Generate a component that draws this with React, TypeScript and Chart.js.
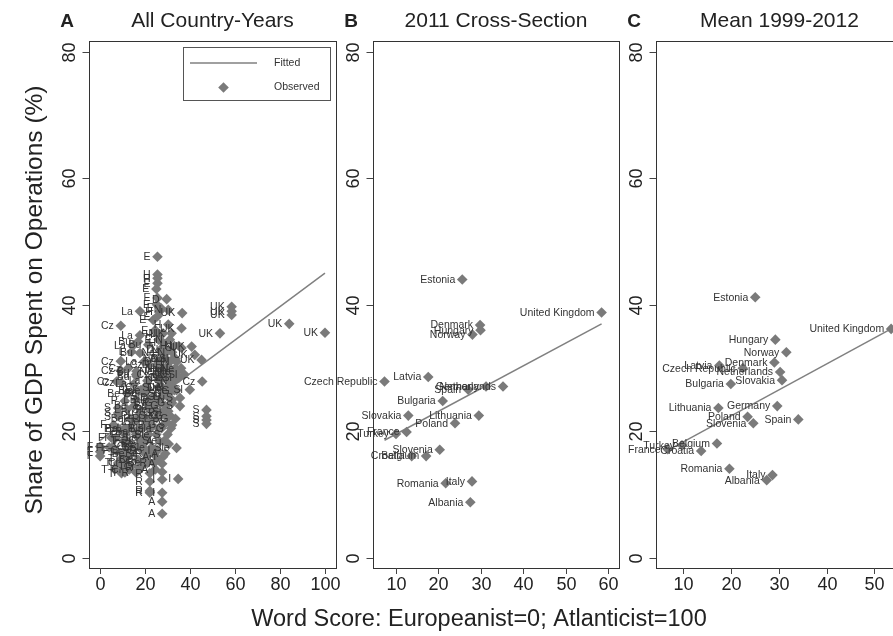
import React, { useEffect, useRef } from 'react';
import { Chart, registerables } from 'chart.js';

Chart.register(...registerables);

// ---------- data ----------

// Share of GDP (y) tick values, common to all three panels
const yTicks = [0, 20, 40, 60, 80];

// Panel A: all country-years, one inner list per country
const codesA = ['E', 'H', 'UK', 'La', 'Cz', 'D', 'N', 'Ne', 'Sl', 'Bu', 'L', 'Be', 'Sle', 'P', 'S', 'G', 'T', 'F', 'Cr', 'R', 'I', 'A'];
const scoresA: number[][] = [
  [25.5, 25.5, 25.5, 25.3, 23.6, 25.5, 24.5, 26.0, 27.0, 25.0],
  [25.5, 25.5, 26.5, 26.6, 28.0, 30.3, 29.5, 31.0, 27.5, 33.0],
  [36.5, 36.2, 40.7, 42.1, 45.1, 53.3, 58.5, 58.5, 58.5, 84.1, 100, 31.8],
  [17.7, 17.7, 14.5, 19.5, 16.0, 21.0, 18.0, 15.0],
  [9.2, 9.2, 9.2, 7.3, 9.5, 45.4, 12.5, 22.0, 25.0, 30.0, 20.0],
  [29.6, 24.3, 27.0, 29.0, 31.0, 28.5, 33.0, 27.5, 30.0, 26.0, 26.5, 29.5, 25.0],
  [30.3, 31.0, 29.0, 32.0, 34.0, 32.0, 30.5, 35.0, 33.0, 28.0, 31.5, 29.0, 33.5],
  [28.0, 31.5, 34.5, 30.0, 36.0, 26.5, 33.0, 29.0, 27.5, 32.5],
  [36.2, 30.3, 33.5, 35.0, 31.0, 28.5, 37.5, 26.0, 39.9],
  [16.9, 21.4, 17.7, 16.2, 16.2, 19.5, 22.0, 24.0, 18.0],
  [14.0, 25.1, 27.3, 12.0, 15.0, 18.0, 20.5, 16.0, 13.0, 19.0, 22.5, 17.0],
  [16.9, 12.0, 15.5, 18.0, 20.0, 17.0, 19.0, 14.0, 21.0, 13.5, 15.0, 11.0],
  [34.0, 21.0, 24.0, 22.5, 25.0, 19.5, 27.0, 23.0, 28.5, 20.5, 26.0, 23.5],
  [11.0, 8.0, 11.0, 20.5, 23.0, 25.0, 27.5, 22.0, 29.5, 18.5, 21.5, 16.5],
  [47.3, 47.3, 47.3, 47.3, 8.0, 8.0, 8.0, 35.5, 35.5, 32.0, 30.0],
  [32.0, 29.0, 26.5, 31.0, 33.5, 28.0, 30.5, 34.0, 27.5, 29.0, 31.5, 26.0],
  [9.5, 9.5, 9.5, 9.5, 5.5, 7.0, 12.0, 10.5, 14.0, 8.0, 6.5, 11.0],
  [0, 0, 0, 5.0, 4.0, 7.0, 10.0, 12.0, 6.0],
  [15.4, 17.7, 19.9, 12.5, 14.0, 16.5, 11.5, 13.0, 18.5, 16.0, 20.5],
  [22.1, 22.1, 22.1, 22.1, 17.7, 20.0, 16.0, 22.0, 24.0],
  [27.6, 27.6, 34.7, 27.6, 28.0, 25.5, 30.5, 26.0],
  [27.6, 27.6, 27.6, 26.6, 24.5, 29.0, 25.0],
];
const sharesA: number[][] = [
  [47.6, 43.4, 41.1, 40.0, 37.6, 38.2, 36.0, 34.5, 39.5, 42.5],
  [44.8, 44.2, 39.0, 35.3, 34.0, 36.9, 32.5, 31.0, 30.0, 33.5],
  [38.7, 36.3, 33.4, 32.1, 31.3, 35.5, 39.7, 39.0, 38.4, 37.0, 35.6, 35.5],
  [39.0, 35.2, 33.5, 31.0, 29.0, 28.0, 26.5, 27.5],
  [36.7, 31.1, 29.6, 27.9, 27.7, 27.9, 30.0, 30.5, 29.0, 28.5, 27.0],
  [40.9, 25.3, 33.0, 31.5, 30.0, 28.5, 29.0, 27.0, 25.5, 31.0, 28.0, 29.0, 30.5],
  [39.2, 34.5, 33.0, 32.5, 31.0, 25.0, 29.5, 33.5, 28.0, 35.5, 27.0, 31.5, 30.0],
  [31.5, 28.5, 29.5, 27.0, 30.0, 29.5, 26.5, 30.0, 32.5, 31.5],
  [33.2, 23.2, 31.5, 28.5, 27.5, 26.0, 29.0, 27.0, 26.6],
  [34.2, 33.7, 32.4, 29.5, 28.7, 26.0, 25.0, 24.0, 23.0],
  [32.6, 22.1, 20.5, 23.5, 21.5, 22.5, 24.5, 25.0, 20.5, 20.5, 22.0, 19.0],
  [26.4, 26.0, 20.0, 18.0, 16.5, 15.5, 17.5, 16.5, 15.0, 22.0, 24.0, 20.5],
  [17.4, 26.5, 23.5, 20.5, 19.5, 19.0, 22.5, 17.5, 18.5, 21.5, 20.5, 25.5],
  [24.8, 20.5, 19.5, 22.0, 21.0, 24.5, 23.0, 23.5, 21.5, 20.5, 19.5, 22.0],
  [23.4, 22.4, 21.8, 21.2, 23.7, 22.9, 22.4, 25.3, 24.0, 21.0, 19.5],
  [24.5, 24.0, 24.5, 22.5, 22.0, 21.0, 26.0, 26.5, 25.5, 22.5, 20.5, 23.0],
  [16.6, 15.7, 14.7, 13.4, 17.5, 19.0, 16.0, 18.5, 14.5, 15.0, 14.0, 13.5],
  [17.6, 16.8, 16.1, 19.0, 17.5, 17.0, 20.0, 18.5, 21.0],
  [17.6, 17.4, 17.0, 17.0, 18.0, 15.5, 15.0, 14.0, 14.5, 19.5, 18.5],
  [13.4, 12.1, 10.6, 10.3, 14.3, 15.5, 13.5, 16.5, 15.0],
  [13.6, 12.4, 12.5, 10.3, 16.0, 17.0, 18.0, 15.5],
  [14.9, 8.9, 7.0, 18.4, 14.0, 16.5, 16.0],
];
const xTicksA = [0, 20, 40, 60, 80, 100];
const fitXA = [0, 100];
const fitYA = [18.6, 45.0];

// Panel B: 2011 cross-section
const countriesB = ['Estonia', 'United Kingdom', 'Denmark', 'Hungary', 'Norway', 'Czech Republic', 'Latvia', 'Germany', 'Netherlands', 'Spain', 'Bulgaria', 'Slovakia', 'Lithuania', 'Poland', 'Turkey', 'France', 'Slovenia', 'Croatia', 'Belgium', 'Romania', 'Italy', 'Albania'];
const scoresB = [25.6, 58.4, 29.8, 29.9, 28.0, 7.3, 17.6, 31.2, 35.2, 27.0, 21.0, 12.9, 29.5, 23.9, 10.0, 12.5, 20.3, 13.7, 17.1, 21.7, 27.9, 27.5];
const sharesB = [44.0, 38.8, 36.8, 36.0, 35.3, 27.9, 28.6, 27.1, 27.1, 26.6, 24.8, 22.5, 22.5, 21.3, 19.6, 19.9, 17.1, 16.1, 16.1, 11.8, 12.1, 8.8];
const xTicksB = [10, 20, 30, 40, 50, 60];
const fitXB = [7.3, 58.4];
const fitYB = [18.6, 37.0];

// Panel C: country means, 1999-2012
const countriesC = ['Estonia', 'United Kingdom', 'Hungary', 'Norway', 'Denmark', 'Netherlands', 'Slovakia', 'Latvia', 'Czech Republic', 'Bulgaria', 'Lithuania', 'Germany', 'Spain', 'Poland', 'Slovenia', 'Belgium', 'Turkey', 'France', 'Croatia', 'Romania', 'Italy', 'Albania'];
const scoresC = [25.1, 53.5, 29.3, 31.6, 29.1, 30.3, 30.7, 17.6, 22.5, 20.0, 17.4, 29.7, 34.1, 23.5, 24.7, 17.1, 9.8, 6.8, 13.8, 19.7, 28.7, 27.5];
const sharesC = [41.2, 36.2, 34.5, 32.5, 30.9, 29.4, 28.1, 30.4, 30.0, 27.5, 23.7, 24.0, 21.9, 22.3, 21.3, 18.1, 17.8, 17.2, 16.9, 14.1, 13.1, 12.3];
const xTicksC = [10, 20, 30, 40, 50];
const fitXC = [6.8, 53.5];
const fitYC = [17.0, 36.2];

// ---------- styling ----------

const FONT = '"Liberation Sans", Arial, Helvetica, sans-serif';
const MARKER = '#7a7a7a';
const FIT_LINE = '#808080';
const INK = '#222222';
const LABEL_INK = '#333333';
const PAGE_H = 636;

type PanelOpts = {
  letter: string;
  title: string;
  labels: string[];
  legend: boolean;
  axisTitles: boolean;
};

function diamond(ctx: CanvasRenderingContext2D, x: number, y: number, r: number) {
  ctx.beginPath();
  ctx.moveTo(x, y - r);
  ctx.lineTo(x + r, y);
  ctx.lineTo(x, y + r);
  ctx.lineTo(x - r, y);
  ctx.closePath();
  ctx.fill();
}

// Base-graphics style frame: box, outward ticks, rotated y labels, titles, point labels
const panelPlugin = {
  id: 'panel',
  afterDatasetsDraw(chart: any, _args: any, opts: PanelOpts) {
    const ctx: CanvasRenderingContext2D = chart.ctx;
    const { left, right, top, bottom } = chart.chartArea;
    const xs = chart.scales.x;
    const ys = chart.scales.y;

    // point labels, placed to the left of each marker
    const meta = chart.getDatasetMeta(0);
    ctx.save();
    ctx.fillStyle = LABEL_INK;
    ctx.font = `10.5px ${FONT}`;
    ctx.textAlign = 'right';
    ctx.textBaseline = 'middle';
    meta.data.forEach((pt: any, i: number) => {
      ctx.fillText(opts.labels[i], pt.x - 7, pt.y + 0.5);
    });
    ctx.restore();

    ctx.save();
    // plot box
    ctx.strokeStyle = '#333333';
    ctx.lineWidth = 1;
    ctx.strokeRect(Math.round(left) + 0.5, Math.round(top) + 0.5, Math.round(right - left), Math.round(bottom - top));

    // y axis ticks & labels
    ctx.strokeStyle = '#444444';
    ctx.fillStyle = INK;
    ctx.font = `18px ${FONT}`;
    ctx.textAlign = 'center';
    ctx.textBaseline = 'middle';
    ys.ticks.forEach((t: any) => {
      const py = Math.round(ys.getPixelForValue(t.value)) + 0.5;
      ctx.beginPath();
      ctx.moveTo(left - 6.5, py);
      ctx.lineTo(left, py);
      ctx.stroke();
      ctx.save();
      ctx.translate(left - 20, py);
      ctx.rotate(-Math.PI / 2);
      ctx.fillText(String(t.value), 0, 1);
      ctx.restore();
    });

    // x axis ticks & labels
    xs.ticks.forEach((t: any) => {
      const px = Math.round(xs.getPixelForValue(t.value)) + 0.5;
      ctx.beginPath();
      ctx.moveTo(px, bottom);
      ctx.lineTo(px, bottom + 6);
      ctx.stroke();
      ctx.fillText(String(t.value), px, bottom + 17);
    });

    // panel letter and title
    ctx.fillStyle = INK;
    ctx.textBaseline = 'alphabetic';
    ctx.font = `bold 19px ${FONT}`;
    ctx.textAlign = 'center';
    ctx.fillText(opts.letter, left - 22, 27);
    ctx.font = `21px ${FONT}`;
    ctx.fillText(opts.title, (left + right) / 2, 26.5);

    if (opts.legend) {
      const lx = left + 94;
      const ly = top + 6;
      ctx.strokeStyle = '#555555';
      ctx.strokeRect(lx + 0.5, ly + 0.5, 147, 53);
      ctx.strokeStyle = FIT_LINE;
      ctx.lineWidth = 1.5;
      ctx.beginPath();
      ctx.moveTo(lx + 7, ly + 16);
      ctx.lineTo(lx + 74, ly + 16);
      ctx.stroke();
      ctx.fillStyle = MARKER;
      diamond(ctx, lx + 40.5, ly + 40.5, 5.3);
      ctx.fillStyle = LABEL_INK;
      ctx.font = `10.5px ${FONT}`;
      ctx.textAlign = 'left';
      ctx.textBaseline = 'middle';
      ctx.fillText(chart.data.datasets[1].label, lx + 91, ly + 16.5);
      ctx.fillText(chart.data.datasets[0].label, lx + 91, ly + 40.5);
    }

    if (opts.axisTitles) {
      ctx.fillStyle = INK;
      ctx.font = `23.5px ${FONT}`;
      ctx.textAlign = 'center';
      ctx.textBaseline = 'middle';
      ctx.fillText('Word Score: Europeanist=0; Atlanticist=100', 479, 620);
      ctx.save();
      ctx.translate(35, 300);
      ctx.rotate(-Math.PI / 2);
      ctx.font = `24.5px ${FONT}`;
      ctx.fillText('Share of GDP Spent on Operations (%)', 0, 0);
      ctx.restore();
    }
    ctx.restore();
  },
};

type PanelProps = {
  width: number;
  box: { left: number; right: number; top: number; bottom: number };
  xMin: number;
  xMax: number;
  xTicks: number[];
  scores: number[];
  shares: number[];
  labels: string[];
  fitX: number[];
  fitY: number[];
  letter: string;
  title: string;
  legend?: boolean;
  axisTitles?: boolean;
};

function Panel(p: PanelProps) {
  const ref = useRef<HTMLCanvasElement | null>(null);

  useEffect(() => {
    if (!ref.current) return;
    const chart = new Chart(ref.current, {
      type: 'scatter',
      data: {
        datasets: [
          {
            label: 'Observed',
            data: p.scores.map((x, i) => ({ x, y: p.shares[i] })),
            pointStyle: 'rectRot',
            pointRadius: 5.3,
            pointBackgroundColor: MARKER,
            pointBorderColor: MARKER,
            pointBorderWidth: 0,
            borderWidth: 0,
          },
          {
            type: 'line',
            label: 'Fitted',
            data: p.fitX.map((x, i) => ({ x, y: p.fitY[i] })),
            borderColor: FIT_LINE,
            borderWidth: 1.5,
            pointRadius: 0,
            fill: false,
            tension: 0,
          },
        ],
      } as any,
      options: {
        responsive: false,
        maintainAspectRatio: false,
        animation: false,
        devicePixelRatio: 1,
        events: [],
        layout: {
          padding: {
            left: p.box.left,
            top: p.box.top,
            right: p.width - p.box.right,
            bottom: PAGE_H - p.box.bottom,
          },
        },
        scales: {
          x: {
            type: 'linear',
            display: false,
            min: p.xMin,
            max: p.xMax,
            afterBuildTicks: (s: any) => {
              s.ticks = p.xTicks.map((v) => ({ value: v }));
            },
          },
          y: {
            type: 'linear',
            display: false,
            min: -1.58,
            max: 81.69,
            afterBuildTicks: (s: any) => {
              s.ticks = yTicks.map((v) => ({ value: v }));
            },
          },
        },
        plugins: {
          legend: { display: false },
          tooltip: { enabled: false },
          panel: {
            letter: p.letter,
            title: p.title,
            labels: p.labels,
            legend: !!p.legend,
            axisTitles: !!p.axisTitles,
          },
        } as any,
      },
      plugins: [panelPlugin],
    });
    return () => chart.destroy();
  }, []);

  return (
    <canvas
      ref={ref}
      width={p.width}
      height={PAGE_H}
      style={{ position: 'absolute', left: 0, top: 0, width: p.width, height: PAGE_H }}
    />
  );
}

export default function App() {
  const flatScoresA = scoresA.flat();
  const flatSharesA = sharesA.flat();
  const flatCodesA = codesA.flatMap((c, i) => scoresA[i].map(() => c));

  return (
    <div
      style={{
        position: 'fixed',
        left: 0,
        top: 0,
        width: 893,
        height: PAGE_H,
        overflow: 'hidden',
        background: '#ffffff',
      }}
    >
      <Panel
        width={893}
        box={{ left: 89, right: 336, top: 41, bottom: 568 }}
        xMin={-4.95}
        xMax={104.9}
        xTicks={xTicksA}
        scores={flatScoresA}
        shares={flatSharesA}
        labels={flatCodesA}
        fitX={fitXA}
        fitY={fitYA}
        letter="A"
        title="All Country-Years"
        legend
        axisTitles
      />
      <Panel
        width={893}
        box={{ left: 373, right: 619, top: 41, bottom: 568 }}
        xMin={4.59}
        xMax={62.5}
        xTicks={xTicksB}
        scores={scoresB}
        shares={sharesB}
        labels={countriesB}
        fitX={fitXB}
        fitY={fitYB}
        letter="B"
        title="2011 Cross-Section"
      />
      <Panel
        width={912}
        box={{ left: 656, right: 903, top: 41, bottom: 568 }}
        xMin={4.36}
        xMax={55.98}
        xTicks={xTicksC}
        scores={scoresC}
        shares={sharesC}
        labels={countriesC}
        fitX={fitXC}
        fitY={fitYC}
        letter="C"
        title="Mean 1999-2012"
      />
    </div>
  );
}
